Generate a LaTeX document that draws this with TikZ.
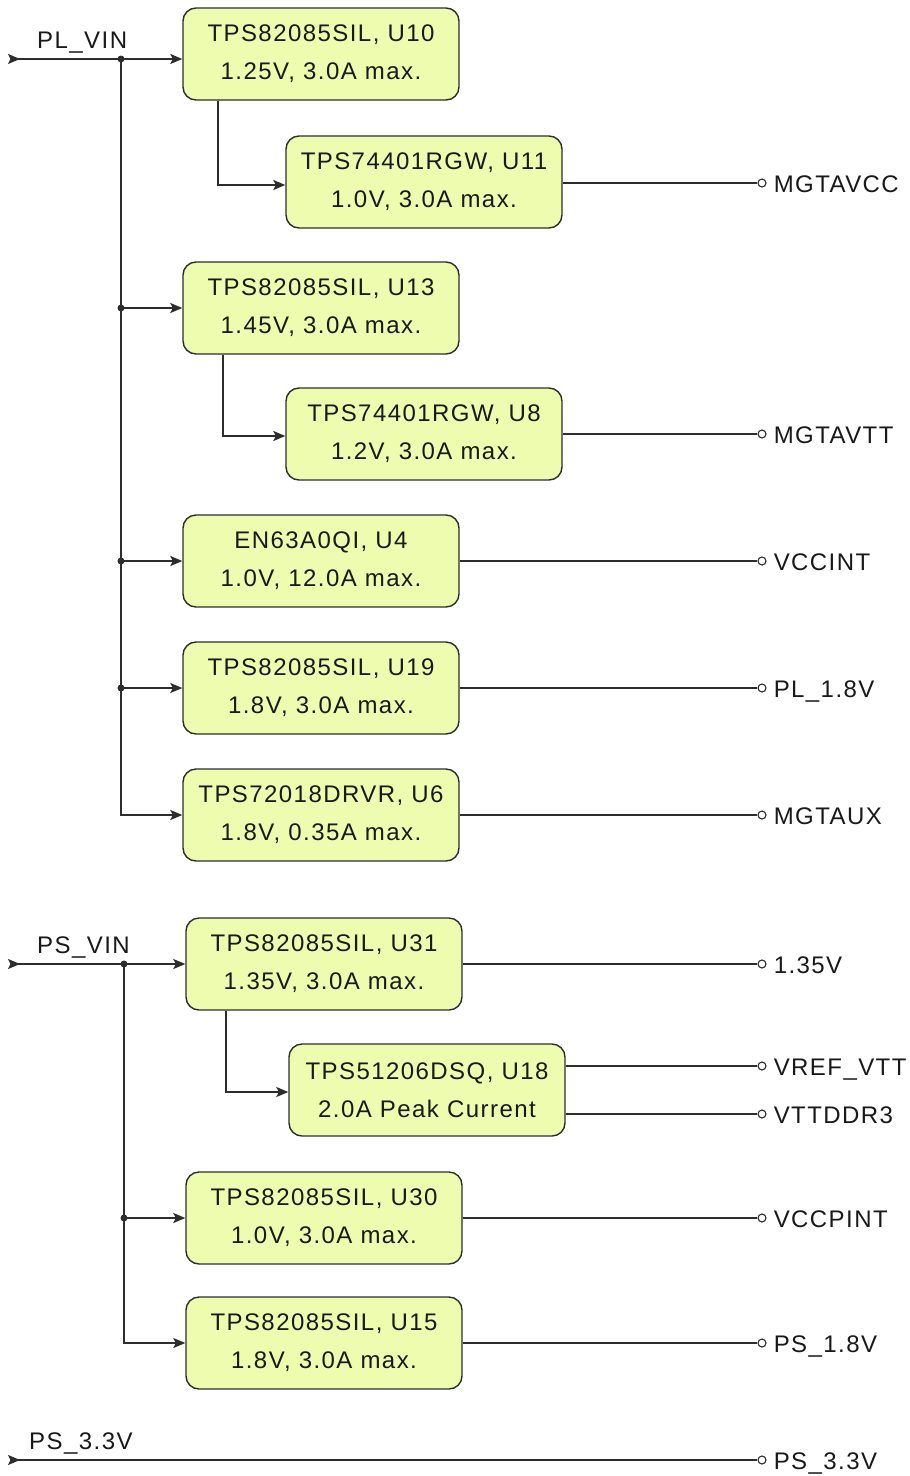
\documentclass[tikz,border=0pt]{standalone}
\usepackage{fontspec}
\setmainfont{Liberation Sans}[LetterSpace=6]
\usetikzlibrary{arrows.meta}
\definecolor{boxfill}{RGB}{238,252,176}
\definecolor{ln}{RGB}{45,45,45}
\definecolor{txt}{RGB}{25,25,25}
\begin{document}
\begin{tikzpicture}[x=1pt,y=-1pt,
  reg/.style={draw=ln, line width=1.4pt, fill=boxfill, rounded corners=13pt,
    minimum width=276pt, minimum height=92pt, align=center, inner sep=0pt,
    font=\fontsize{24}{38}\selectfont, text=txt},
  tip/.tip={Stealth[length=12pt,width=10pt,inset=2.5pt]},
  feed/.style={draw=ln, line width=1.4pt, -tip},
  src/.style={draw=ln, line width=1.4pt, {Stealth[reversed,length=12pt,width=10pt,inset=2.5pt]}-tip},
  wire/.style={draw=ln, line width=1.2pt},
  dot/.style={circle, fill=ln, inner sep=0pt, minimum size=7pt},
  term/.style={circle, draw=ln, line width=1.1pt, fill=white, inner sep=0pt, minimum size=8pt},
  lbl/.style={font=\fontsize{24}{28}\selectfont, anchor=base west, inner sep=0pt, text=txt}]

\useasboundingbox (0,0) rectangle (910,1476);

% regulator boxes
\node[reg] (u10) at (321,54)   {TPS82085SIL, U10\\1.25V, 3.0A max.};
\node[reg] (u11) at (424,182)  {TPS74401RGW, U11\\1.0V, 3.0A max.};
\node[reg] (u13) at (321,308)  {TPS82085SIL, U13\\1.45V, 3.0A max.};
\node[reg] (u8)  at (424,434)  {TPS74401RGW, U8\\1.2V, 3.0A max.};
\node[reg] (u4)  at (321,561)  {EN63A0QI, U4\\1.0V, 12.0A max.};
\node[reg] (u19) at (321,688)  {TPS82085SIL, U19\\1.8V, 3.0A max.};
\node[reg] (u6)  at (321,815)  {TPS72018DRVR, U6\\1.8V, 0.35A max.};
\node[reg] (u31) at (324,964)  {TPS82085SIL, U31\\1.35V, 3.0A max.};
\node[reg] (u18) at (427,1090) {TPS51206DSQ, U18\\2.0A Peak Current};
\node[reg] (u30) at (324,1218) {TPS82085SIL, U30\\1.0V, 3.0A max.};
\node[reg] (u15) at (324,1343) {TPS82085SIL, U15\\1.8V, 3.0A max.};

% input labels
\node[lbl] (plvin) at (37,48)   {PL\_VIN};
\node[lbl] (psvin) at (37,953)  {PS\_VIN};
\node[lbl] (ps33in) at (29,1449) {PS\_3.3V};

% PL input bus
\coordinate (plin) at (8,59);
\node[dot] (plj) at (121,59) {};
\node[dot] (pl2) at (121,308) {};
\node[dot] (pl3) at (121,561) {};
\node[dot] (pl4) at (121,688) {};
\draw[src] (plin) -- (u10.west |- plin);
\draw[wire] (plj.center) -- (pl2.center) -- (pl3.center) -- (pl4.center);
\draw[feed] (pl4.center) |- (u6.west);
\draw[feed] (pl2.center) -- (u13.west);
\draw[feed] (pl3.center) -- (u4.west);
\draw[feed] (pl4.center) -- (u19.west);

% second-level feeds
\coordinate (b1) at (218,185);
\coordinate (b2) at (223,436);
\coordinate (b3) at (226,1092);
\draw[feed] (u10.south -| b1) |- (u11.west |- b1);
\draw[feed] (u13.south -| b2) |- (u8.west |- b2);
\draw[feed] (u31.south -| b3) |- (u18.west |- b3);

% PS input bus
\coordinate (psin) at (8,964);
\node[dot] (psj) at (124,964) {};
\node[dot] (ps2) at (124,1218) {};
\draw[src] (psin) -- (u31.west |- psin);
\draw[wire] (psj.center) -- (ps2.center);
\draw[feed] (ps2.center) -- (u30.west);
\draw[feed] (ps2.center) |- (u15.west);

% outputs
\node[term] (t1)  at (762,183)  {};
\node[term] (t2)  at (762,434)  {};
\node[term] (t3)  at (762,561)  {};
\node[term] (t4)  at (762,688)  {};
\node[term] (t5)  at (762,815)  {};
\node[term] (t6)  at (762,964)  {};
\node[term] (t7)  at (762,1066) {};
\node[term] (t8)  at (762,1114) {};
\node[term] (t9)  at (762,1218) {};
\node[term] (t10) at (762,1343) {};
\node[term] (t11) at (762,1460) {};

\draw[wire] (u11.east |- t1) -- (t1);
\draw[wire] (u8.east |- t2)  -- (t2);
\draw[wire] (u4.east |- t3)  -- (t3);
\draw[wire] (u19.east |- t4) -- (t4);
\draw[wire] (u6.east |- t5)  -- (t5);
\draw[wire] (u31.east |- t6) -- (t6);
\draw[wire] (u18.east |- t7) -- (t7);
\draw[wire] (u18.east |- t8) -- (t8);
\draw[wire] (u30.east |- t9) -- (t9);
\draw[wire] (u15.east |- t10) -- (t10);
\coordinate (ps33) at (8,1460);
\draw[wire, line width=1.4pt, {Stealth[reversed,length=12pt,width=10pt,inset=2.5pt]}-] (ps33) -- (t11);

\node[lbl] at ([xshift=7pt,yshift=-9pt]t1.east)  {MGTAVCC};
\node[lbl] at ([xshift=7pt,yshift=-9pt]t2.east)  {MGTAVTT};
\node[lbl] at ([xshift=7pt,yshift=-9pt]t3.east)  {VCCINT};
\node[lbl] at ([xshift=7pt,yshift=-9pt]t4.east)  {PL\_1.8V};
\node[lbl] at ([xshift=7pt,yshift=-9pt]t5.east)  {MGTAUX};
\node[lbl] at ([xshift=7pt,yshift=-9pt]t6.east)  {1.35V};
\node[lbl] at ([xshift=7pt,yshift=-9pt]t7.east)  {VREF\_VTT};
\node[lbl] at ([xshift=7pt,yshift=-9pt]t8.east)  {VTTDDR3};
\node[lbl] at ([xshift=7pt,yshift=-9pt]t9.east)  {VCCPINT};
\node[lbl] at ([xshift=7pt,yshift=-9pt]t10.east) {PS\_1.8V};
\node[lbl] at ([xshift=7pt,yshift=-9pt]t11.east) {PS\_3.3V};
\end{tikzpicture}
\end{document}
